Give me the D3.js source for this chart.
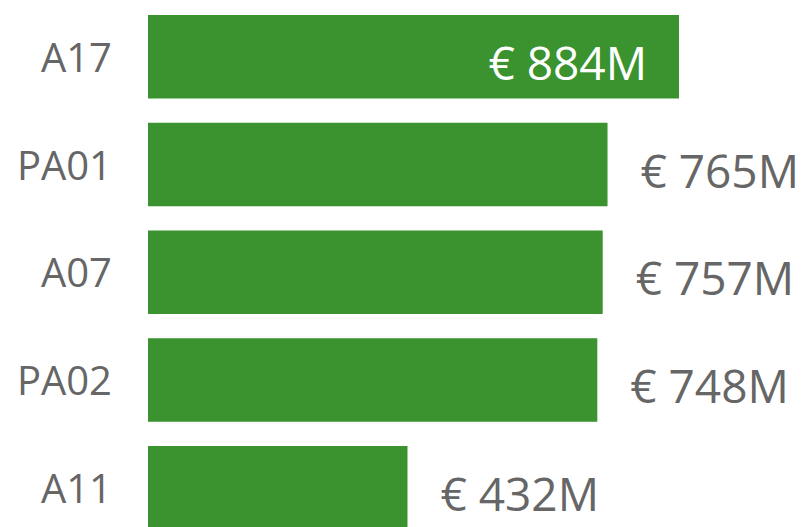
<!DOCTYPE html>
<html>
<head>
<meta charset="utf-8">
<script src="https://cdn.jsdelivr.net/npm/d3@7"></script>
<style>
  body { margin: 0; background: #fff; }
  text { font-family: "Open Sans", "Segoe UI", sans-serif; }
</style>
</head>
<body>
<div id="chart"></div>
<script>
var categories = ["A17", "PA01", "A07", "PA02", "A11"];
var values = [884, 765, 757, 748, 432];

var fw = 805;
var fh = 527;

var barColor = "#3a932e";
var textColor = "#666666";

var svg = d3.select("#chart")
    .append("svg")
    .attr("width", fw)
    .attr("height", fh);

var x = d3.scaleLinear()
    .domain([0, 884])
    .range([148, 679]);

var y = d3.scaleBand()
    .domain(categories)
    .range([15, 529.5])
    .paddingInner(0.225)
    .paddingOuter(0);

var data = categories.map(function(c, i) { return { cat: c, val: values[i] }; });

svg.selectAll("rect.bar")
    .data(data)
    .enter()
    .append("rect")
    .attr("class", "bar")
    .attr("x", x(0))
    .attr("y", function(d) { return y(d.cat); })
    .attr("width", function(d) { return x(d.val) - x(0); })
    .attr("height", y.bandwidth())
    .attr("fill", barColor);

// category labels
svg.selectAll("text.cat")
    .data(data)
    .enter()
    .append("text")
    .attr("class", "cat")
    .attr("x", 112)
    .attr("y", function(d) { return y(d.cat) + y.bandwidth() / 2 + 15; })
    .attr("text-anchor", "end")
    .attr("fill", textColor)
    .style("font-size", "40px")
    .text(function(d) { return d.cat; });

// value labels, outside unless they don't fit
var labels = svg.selectAll("text.val")
    .data(data)
    .enter()
    .append("text")
    .attr("class", "val")
    .attr("y", function(d) { return y(d.cat) + y.bandwidth() / 2 + 23; })
    .style("font-size", "46px")
    .text(function(d) { return "€ " + d.val + "M"; });

labels.each(function(d) {
    var t = d3.select(this);
    var tw = this.getComputedTextLength();
    var end = x(d.val);
    if (end + 33 + tw > fw) {
        t.attr("x", end - 32).attr("text-anchor", "end").attr("fill", "#ffffff");
    } else {
        t.attr("x", end + 33).attr("text-anchor", "start").attr("fill", textColor);
    }
});
</script>
</body>
</html>
